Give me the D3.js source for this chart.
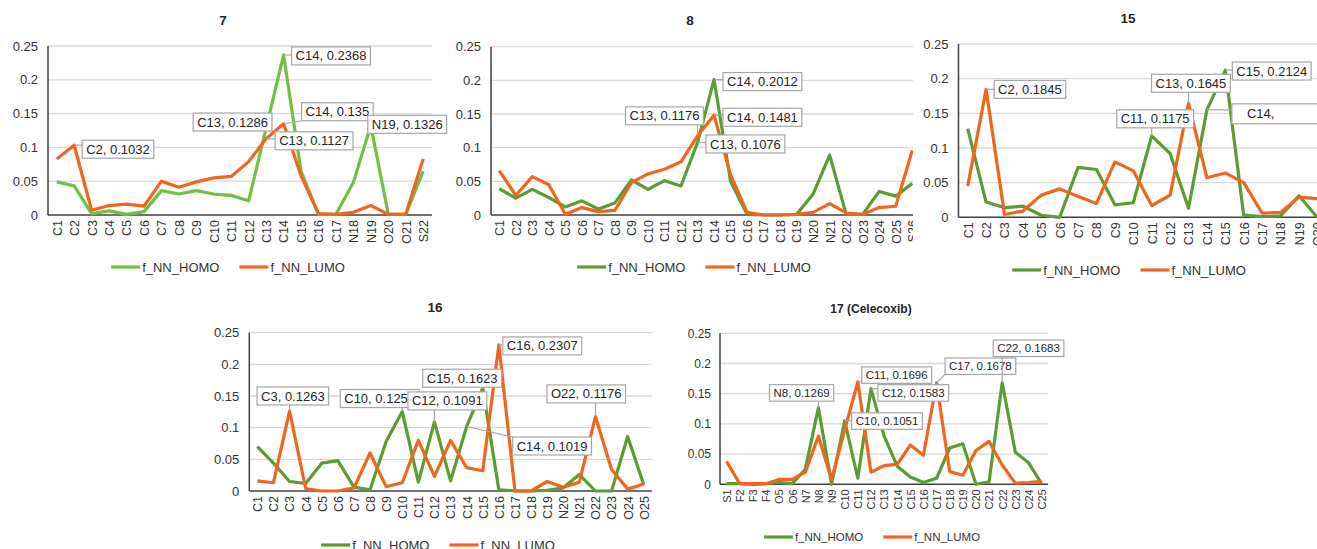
<!DOCTYPE html>
<html>
<head>
<meta charset="utf-8">
<script src="https://cdn.jsdelivr.net/npm/d3@7"></script>
<style>
  body { margin: 0; background: #fff; }
  svg { display: block; font-family: "Liberation Sans", Arial, sans-serif; }
</style>
</head>
<body>
<svg id="chart" width="1317" height="549"></svg>
<script>
// ---- data ----
const cats7 = ["C1","C2","C3","C4","C5","C6","C7","C8","C9","C10","C11","C12","C13","C14","C15","C16","C17","N18","N19","O20","O21","S22"];
const homo7 = [0.049,0.043,0.002,0.006,0.001,0.005,0.036,0.031,0.036,0.031,0.029,0.021,0.1286,0.2368,0.065,0.001,0.001,0.048,0.1326,0.001,0.001,0.065];
const lumo7 = [0.083,0.1032,0.007,0.014,0.016,0.013,0.05,0.041,0.049,0.055,0.057,0.079,0.1127,0.135,0.058,0.002,0.001,0.004,0.014,0.001,0.001,0.083];

const cats8 = ["C1","C2","C3","C4","C5","C6","C7","C8","C9","C10","C11","C12","C13","C14","C15","C16","C17","C18","C19","N20","N21","O22","O23","O24","O25","S26"];
const homo8 = [0.039,0.025,0.038,0.026,0.012,0.021,0.009,0.018,0.052,0.038,0.051,0.043,0.1076,0.2012,0.05,0.001,0,0,0.001,0.031,0.089,0.001,0.001,0.035,0.028,0.047];
const lumo8 = [0.066,0.029,0.057,0.045,0.001,0.011,0.005,0.007,0.048,0.061,0.068,0.079,0.1176,0.1481,0.06,0.004,0,0,0.001,0.004,0.017,0.003,0.001,0.011,0.013,0.096];

const cats15 = ["C1","C2","C3","C4","C5","C6","C7","C8","C9","C10","C11","C12","C13","C14","C15","C16","C17","N18","N19","O20"];
const homo15 = [0.128,0.022,0.014,0.016,0.003,0,0.072,0.069,0.018,0.021,0.1175,0.092,0.013,0.155,0.2124,0.003,0.001,0.002,0.031,0];
const lumo15 = [0.045,0.1845,0.004,0.009,0.032,0.041,0.03,0.02,0.08,0.067,0.017,0.032,0.1645,0.057,0.064,0.05,0.006,0.007,0.029,0.027];

const cats16 = ["C1","C2","C3","C4","C5","C6","C7","C8","C9","C10","C11","C12","C13","C14","C15","C16","C17","C18","C19","N20","N21","O22","O23","O24","O25"];
const homo16 = [0.07,0.044,0.015,0.012,0.044,0.048,0.006,0.002,0.078,0.1255,0.014,0.1091,0.016,0.1019,0.1623,0.002,0,0,0.001,0.005,0.026,0,0,0.086,0.01];
const lumo16 = [0.016,0.013,0.1263,0.004,0,0,0.005,0.06,0.007,0.013,0.08,0.023,0.08,0.037,0.032,0.2307,0,0,0.015,0.006,0.014,0.1176,0.034,0.003,0.011];

const cats17 = ["S1","F2","F3","F4","O5","O6","N7","N8","N9","C10","C11","C12","C13","C14","C15","C16","C17","C18","C19","C20","C21","C22","C23","C24","C25"];
const homo17 = [0.001,0.001,0,0.001,0.003,0.001,0.025,0.1269,0,0.1051,0.01,0.1583,0.08,0.03,0.012,0.003,0.01,0.06,0.067,0,0.004,0.1683,0.053,0.036,0.001];
const lumo17 = [0.038,0.001,0.001,0.001,0.008,0.008,0.02,0.08,0.008,0.09,0.1696,0.02,0.031,0.033,0.065,0.048,0.1678,0.021,0.015,0.056,0.071,0.032,0.002,0.003,0.005];

const yTicks = [0, 0.05, 0.1, 0.15, 0.2, 0.25];
const seriesNames = ["f_NN_HOMO", "f_NN_LUMO"];

const ORANGE = "#f0661e";
const GREEN = "#5b9d33";
const LIGHT_GREEN = "#72c043";
const FONT = '"Liberation Sans", Arial, sans-serif';

const svg = d3.select('#chart');

class FukuiPanel {

  constructor(_config) {
    this.config = _config;
    this.initVis();
  }

  initVis() {
    let vis = this;
    let c = vis.config;
    vis.g = svg.append('g');

    // white backing so this panel hides whatever sticks out of its neighbour
    if (c.bg) {
      vis.g.append('rect')
        .attr('x', c.bg[0]).attr('y', c.bg[1])
        .attr('width', c.bg[2]).attr('height', c.bg[3])
        .attr('fill', '#fff');
    }

    vis.xScale = d3.scalePoint()
      .domain(c.cats)
      .range([c.left, c.left + c.step * c.cats.length])
      .padding(0.5);
    vis.yScale = d3.scaleLinear().domain([0, 0.25]).range([c.bottom, c.top]);
    vis.gridRight = c.gridRight || (c.left + c.step * c.cats.length);

    vis.renderVis();
  }

  renderVis() {
    let vis = this;
    let c = vis.config;

    // gridlines
    vis.g.selectAll('.grid').data(yTicks.slice(1)).join('line')
      .attr('class', 'grid')
      .attr('x1', c.left).attr('x2', vis.gridRight)
      .attr('y1', d => vis.yScale(d)).attr('y2', d => vis.yScale(d))
      .attr('stroke', '#d9d9d9').attr('stroke-width', 1.3);

    // y axis
    let yAxisG = vis.g.append('g')
      .attr('transform', `translate(${c.left},0)`)
      .call(d3.axisLeft(vis.yScale).tickValues(yTicks).tickSize(0).tickPadding(c.yPad)
        .tickFormat(d => String(+d.toFixed(2))));
    yAxisG.attr('font-family', FONT);
    yAxisG.select('.domain').remove();
    yAxisG.selectAll('text').attr('font-size', c.yFont).attr('fill', '#333');

    // x axis (rotated labels)
    let xAxisG = vis.g.append('g')
      .attr('transform', `translate(0,${c.bottom})`)
      .call(d3.axisBottom(vis.xScale).tickSize(0));
    xAxisG.attr('font-family', FONT);
    xAxisG.select('.domain').remove();
    xAxisG.selectAll('text')
      .attr('font-size', c.xFont).attr('fill', '#333')
      .attr('y', 0).attr('x', -5).attr('dy', '0.35em')
      .attr('transform', 'rotate(-90)')
      .style('text-anchor', 'end');

    // axis lines
    vis.g.append('line')
      .attr('x1', c.left).attr('x2', c.left)
      .attr('y1', vis.yScale(0.25)).attr('y2', vis.yScale(0))
      .attr('stroke', '#404040').attr('stroke-width', 1.5);
    vis.g.append('line')
      .attr('x1', c.left).attr('x2', vis.gridRight)
      .attr('y1', vis.yScale(0)).attr('y2', vis.yScale(0))
      .attr('stroke', '#404040').attr('stroke-width', 1.5);

    // series lines
    const line = d3.line()
      .x((d, i) => vis.xScale(c.cats[i]))
      .y(d => vis.yScale(d));
    vis.g.append('path').datum(c.homo)
      .attr('d', line).attr('fill', 'none')
      .attr('stroke', c.homoColor).attr('stroke-width', 3.2).attr('stroke-linejoin', 'round');
    vis.g.append('path').datum(c.lumo)
      .attr('d', line).attr('fill', 'none')
      .attr('stroke', ORANGE).attr('stroke-width', 3.2).attr('stroke-linejoin', 'round');

    // data callouts
    const pad = 4;
    const boxH = c.labelFont + 5;
    let callG = vis.g.append('g');
    c.callouts.forEach(co => {
      let vals = co.s === 'homo' ? c.homo : c.lumo;
      let v = vals[c.cats.indexOf(co.c)];
      let px = vis.xScale(co.c), py = vis.yScale(v);
      let bx = px + co.dx, by = py + co.dy;
      let grp = callG.append('g');
      let leader = grp.append('line');
      let box = grp.append('rect');
      let txt = grp.append('text')
        .attr('x', bx + pad + (co.tx || 0)).attr('y', by + boxH / 2)
        .attr('dy', '0.35em')
        .attr('font-size', c.labelFont).attr('fill', '#262626')
        .text(co.text || `${co.c}, ${v}`);
      let bw = co.w || (txt.node().getComputedTextLength() + 2 * pad);
      let bh = co.h || boxH;
      box.attr('x', bx).attr('y', by).attr('width', bw).attr('height', bh)
        .attr('fill', '#fff').attr('stroke', '#a6a6a6').attr('stroke-width', 1.2);
      if (co.h) txt.attr('y', by + bh / 2);
      let nx = Math.max(bx, Math.min(px, bx + bw));
      let ny = Math.max(by, Math.min(py, by + bh));
      leader.attr('x1', px).attr('y1', py).attr('x2', nx).attr('y2', ny)
        .attr('stroke', '#a6a6a6').attr('stroke-width', 1.2);
    });

    // title
    vis.g.append('text')
      .attr('x', c.titleX).attr('y', c.titleY).attr('dy', '0.35em')
      .attr('text-anchor', 'middle').attr('font-weight', 'bold')
      .attr('font-size', c.titleFont).attr('fill', '#262626')
      .text(c.title);

    // legend
    let legG = vis.g.append('g');
    let colors = [c.homoColor, ORANGE];
    let x = 0;
    seriesNames.forEach((name, i) => {
      legG.append('line')
        .attr('x1', x).attr('x2', x + 29).attr('y1', 0).attr('y2', 0)
        .attr('stroke', colors[i]).attr('stroke-width', 3.2);
      let t = legG.append('text')
        .attr('x', x + 31).attr('y', 0).attr('dy', '0.35em')
        .attr('font-size', c.legendFont).attr('fill', '#333')
        .text(name);
      x += 31 + t.node().getComputedTextLength() + 20;
    });
    let total = x - 20;
    legG.attr('transform', `translate(${c.legendX - total / 2},${c.legendY})`);
  }
}

// ---- panels ----
new FukuiPanel({
  title: "7", cats: cats7, homo: homo7, lumo: lumo7, homoColor: LIGHT_GREEN,
  left: 48, top: 46, bottom: 215, step: 17.45,
  yPad: 10, yFont: 13, xFont: 12.5, labelFont: 13, titleFont: 13.5, legendFont: 13,
  titleX: 223, titleY: 20, legendX: 228, legendY: 267,
  callouts: [
    { s: 'lumo', c: 'C2', dx: 8, dy: -5 },
    { s: 'homo', c: 'C13', dx: -73, dy: -15 },
    { s: 'homo', c: 'C14', dx: 8, dy: -8 },
    { s: 'lumo', c: 'C14', dx: 18, dy: -21 },
    { s: 'lumo', c: 'C13', dx: 9, dy: -7 },
    { s: 'homo', c: 'N19', dx: -3, dy: -10 }
  ]
});

new FukuiPanel({
  title: "8", cats: cats8, homo: homo8, lumo: lumo8, homoColor: GREEN,
  left: 491, top: 46.7, bottom: 215, step: 16.52,
  yPad: 10, yFont: 13, xFont: 12.5, labelFont: 13, titleFont: 13.5, legendFont: 13,
  titleX: 690, titleY: 20, legendX: 694, legendY: 267,
  callouts: [
    { s: 'homo', c: 'C14', dx: 9, dy: -7 },
    { s: 'lumo', c: 'C13', dx: -72, dy: -29 },
    { s: 'lumo', c: 'C14', dx: 9, dy: -7 },
    { s: 'homo', c: 'C13', dx: 8.5, dy: -7.6 }
  ]
});

new FukuiPanel({
  title: "15", cats: cats15, homo: homo15, lumo: lumo15, homoColor: GREEN,
  left: 958.5, top: 44, bottom: 217.3, step: 18.4, gridRight: 1317,
  bg: [913, 0, 404, 285],
  yPad: 10, yFont: 13, xFont: 12.5, labelFont: 13, titleFont: 13.5, legendFont: 13,
  titleX: 1128, titleY: 18, legendX: 1129, legendY: 270,
  callouts: [
    { s: 'lumo', c: 'C2', dx: 8, dy: -9 },
    { s: 'homo', c: 'C11', dx: -35, dy: -26 },
    { s: 'lumo', c: 'C13', dx: -37, dy: -29 },
    { s: 'homo', c: 'C15', dx: 7, dy: -8 },
    { s: 'homo', c: 'C14', dx: 25, dy: -6, text: 'C14,', w: 95, h: 20, tx: 11 }
  ]
});

new FukuiPanel({
  title: "16", cats: cats16, homo: homo16, lumo: lumo16, homoColor: GREEN,
  left: 249.3, top: 332.7, bottom: 491, step: 16.1,
  yPad: 10, yFont: 13, xFont: 12.5, labelFont: 13, titleFont: 13.5, legendFont: 13,
  titleX: 435, titleY: 307, legendX: 438, legendY: 545,
  callouts: [
    { s: 'lumo', c: 'C3', dx: -32.5, dy: -24 },
    { s: 'homo', c: 'C10', dx: -62, dy: -22 },
    { s: 'homo', c: 'C12', dx: -26.5, dy: -30 },
    { s: 'homo', c: 'C15', dx: -60, dy: -19 },
    { s: 'lumo', c: 'C16', dx: 4, dy: -8 },
    { s: 'homo', c: 'C14', dx: 46, dy: 10.5 },
    { s: 'lumo', c: 'O22', dx: -48.5, dy: -31.6 }
  ]
});

new FukuiPanel({
  title: "17 (Celecoxib)", cats: cats17, homo: homo17, lumo: lumo17, homoColor: GREEN,
  left: 720, top: 333.3, bottom: 484.3, step: 13.125,
  yPad: 9, yFont: 12, xFont: 11, labelFont: 11.5, titleFont: 12, legendFont: 11.5,
  titleX: 871, titleY: 309, legendX: 872, legendY: 537,
  callouts: [
    { s: 'homo', c: 'N8', dx: -49, dy: -23 },
    { s: 'lumo', c: 'C11', dx: 4, dy: -15 },
    { s: 'homo', c: 'C12', dx: 7, dy: -4 },
    { s: 'homo', c: 'C10', dx: 7, dy: -8 },
    { s: 'lumo', c: 'C17', dx: 8.5, dy: -25 },
    { s: 'homo', c: 'C22', dx: -9, dy: -42.6 }
  ]
});
</script>
</body>
</html>
